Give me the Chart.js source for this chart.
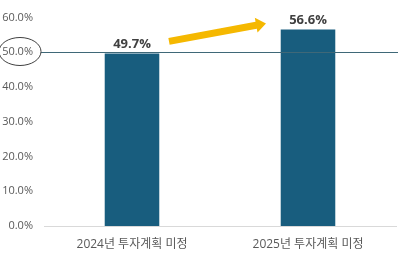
<!DOCTYPE html>
<html>
<head>
<meta charset="utf-8">
<script src="https://cdn.jsdelivr.net/npm/chart.js@4.4.1/dist/chart.umd.min.js"></script>
<style>
  html, body { margin: 0; padding: 0; background: #fff; }
  #wrap { width: 407px; height: 255px; }
</style>
</head>
<body>
<div id="wrap"><canvas id="myChart" width="407" height="255"></canvas></div>
<script>
// chart data
const categories = ['2024년 투자계획 미정', '2025년 투자계획 미정'];
const values = [49.7, 56.6];
const yTicks = [0, 10, 20, 30, 40, 50, 60];
const refValue = 50;

const fontFamily = "'Open Sans', 'Noto Sans CJK KR', sans-serif";

// labels above bars, 50% line, ellipse and arrow
const extras = {
  id: 'extras',
  afterDatasetsDraw(chart) {
    const ctx = chart.ctx;
    const y = chart.scales.y;
    const meta = chart.getDatasetMeta(0);
    ctx.save();

    // reference line at 50%
    const yRef = Math.round(y.getPixelForValue(refValue)) + 0.5;
    ctx.strokeStyle = '#3f6878';
    ctx.lineWidth = 1;
    ctx.beginPath();
    ctx.moveTo(41, yRef);
    ctx.lineTo(398, yRef);
    ctx.stroke();

    // ellipse around the 50% tick
    ctx.strokeStyle = '#404040';
    ctx.beginPath();
    ctx.ellipse(20, yRef - 1, 21, 14, 0, 0, Math.PI * 2);
    ctx.stroke();

    // value labels
    ctx.fillStyle = '#404040';
    ctx.font = "bold 13px " + fontFamily;
    ctx.textAlign = 'center';
    ctx.textBaseline = 'alphabetic';
    meta.data.forEach((bar, i) => {
      ctx.fillText(values[i].toFixed(1) + '%', bar.x, bar.y - 5);
    });

    // yellow arrow between the bars
    const b0 = meta.data[0], b1 = meta.data[1];
    const x0 = b0.x + 37, y0 = b0.y - 12;
    const x1 = b1.x - 42, y1 = b1.y - 6;
    const ang = Math.atan2(y1 - y0, x1 - x0);
    const headLen = 10, shaft = 3.5, head = 7.5;
    const bx = x1 - headLen * Math.cos(ang), by = y1 - headLen * Math.sin(ang);
    const nx = -Math.sin(ang), ny = Math.cos(ang);
    ctx.fillStyle = '#f5b800';
    ctx.beginPath();
    ctx.moveTo(x0 + nx * shaft, y0 + ny * shaft);
    ctx.lineTo(bx + nx * shaft, by + ny * shaft);
    ctx.lineTo(bx + nx * head, by + ny * head);
    ctx.lineTo(x1, y1);
    ctx.lineTo(bx - nx * head, by - ny * head);
    ctx.lineTo(bx - nx * shaft, by - ny * shaft);
    ctx.lineTo(x0 - nx * shaft, y0 - ny * shaft);
    ctx.closePath();
    ctx.fill();

    ctx.restore();
  }
};

new Chart(document.getElementById('myChart'), {
  type: 'bar',
  data: {
    labels: categories,
    datasets: [{
      data: values,
      backgroundColor: '#185d7e',
      barPercentage: 0.62,
      categoryPercentage: 0.5
    }]
  },
  options: {
    responsive: false,
    animation: false,
    layout: { padding: { left: 0, right: 11, top: 17, bottom: 0 } },
    plugins: { legend: { display: false }, tooltip: { enabled: false } },
    scales: {
      x: {
        grid: { display: false, drawTicks: false },
        border: { display: true, color: '#d9d9d9' },
        ticks: { color: '#595959', font: { size: 12, family: fontFamily }, padding: 11 },
        afterFit(scale) { scale.height = 29; }
      },
      y: {
        min: 0,
        max: 60,
        afterBuildTicks(scale) { scale.ticks = yTicks.map(v => ({ value: v })); },
        grid: { display: false, drawTicks: false },
        border: { display: false },
        ticks: {
          color: '#595959',
          font: { size: 11, family: fontFamily },
          padding: 11,
          callback: v => v.toFixed(1) + '%'
        },
        afterFit(scale) { scale.width = 44; }
      }
    }
  },
  plugins: [extras]
});
</script>
</body>
</html>
